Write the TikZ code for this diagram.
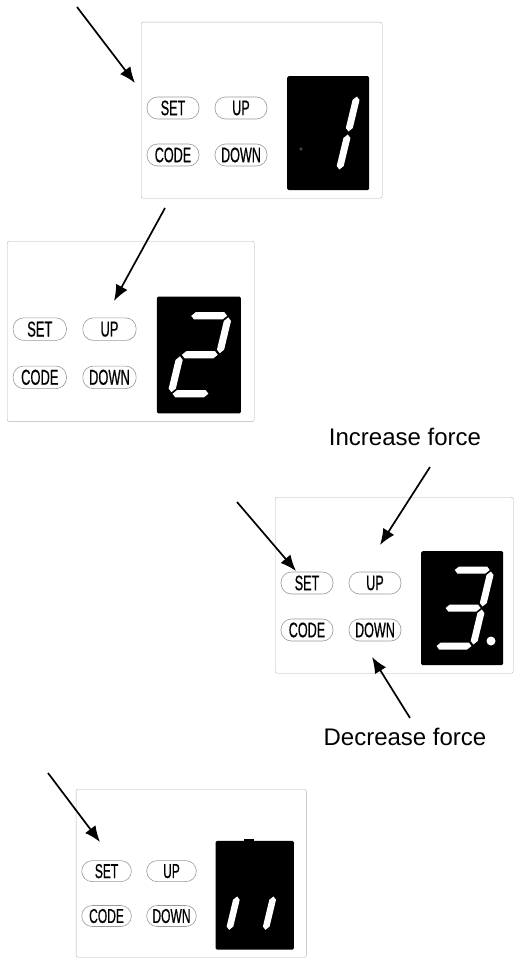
\documentclass[tikz,border=0pt]{standalone}
\usepackage{fontspec}
\setmainfont{Liberation Sans}
\newfontfamily\btnfont[FakeStretch=0.6, FakeBold=0.6]{Liberation Sans}
\usepackage{tikz}
\usetikzlibrary{arrows.meta}

% segments of a seven segment digit, in units of the display
\newcommand{\hseg}[1]{\fill[white] (15.5,#1) -- (19,#1-3.5) -- (47,#1-3.5) -- (50.5,#1) -- (47,#1+3.5) -- (19,#1+3.5) -- cycle;}
\newcommand{\vseg}[3]{\fill[white] (#1,#2+1.5) -- (#1+3.5,#2+5) -- (#1+3.5,#3-5) -- (#1,#3-1.5) -- (#1-3.5,#3-5) -- (#1-3.5,#2+5) -- cycle;}

\begin{document}
\begin{tikzpicture}[
		x=1pt, y=-1pt,
		panelbox/.style={rectangle, draw=gray!60, rounded corners=2pt, minimum width=241, minimum height=176, anchor=north west, inner sep=0pt},
		btn/.style={rectangle, draw=gray!80, line width=0.6pt, rounded corners=10.5pt, minimum width=52, minimum height=22, inner sep=0pt, font=\btnfont\fontsize{21}{21}\selectfont},
		lcd/.style={rectangle, fill=black, rounded corners=1.5pt, minimum width=82, minimum height=114, anchor=north west, inner sep=0pt},
		cue/.style={-{Latex[length=16pt,width=13pt]}, line width=1.7pt},
		hint/.style={font=\fontsize{24}{28}\selectfont}
	]
		\useasboundingbox (0,0) rectangle (515,958);

		% panel 1
		\begin{scope}[shift={(141,22)}]
			\node[panelbox](box-1) at (0,0){};
			\node[btn](set-1) at (32,86){SET};
			\node[btn](up-1) at (100,86){UP};
			\node[btn](code-1) at (32,133){CODE};
			\node[btn](down-1) at (100,133){DOWN};
			\node[lcd](lcd-1) at (146,54){};
			\draw[gray, line width=0.3pt] (160,127) circle (1.3pt);
			\begin{scope}[shift={(168.8,54)}, xslant=0.24]
				\vseg{52}{19}{57} \vseg{52}{57}{95}
			\end{scope}
		\end{scope}

		% panel 2
		\begin{scope}[shift={(7,241)}, scale=1.025, transform shape]
			\node[panelbox](box-2) at (0,0){};
			\node[btn](set-2) at (32,86){SET};
			\node[btn](up-2) at (100,86){UP};
			\node[btn](code-2) at (32,133){CODE};
			\node[btn](down-2) at (100,133){DOWN};
			\node[lcd](lcd-2) at (146,54){};
			\begin{scope}[shift={(168.8,54)}, xslant=0.24]
				\hseg{19} \vseg{52}{19}{57} \hseg{57} \vseg{14}{57}{95} \hseg{95}
			\end{scope}
		\end{scope}

		% panel 3
		\begin{scope}[shift={(275,497)}]
			\node[panelbox, minimum width=238](box-3) at (0,0){};
			\node[btn](set-3) at (32,86){SET};
			\node[btn](up-3) at (100,86){UP};
			\node[btn](code-3) at (32,133){CODE};
			\node[btn](down-3) at (100,133){DOWN};
			\node[lcd](lcd-3) at (146,54){};
			\begin{scope}[shift={(168.8,54)}, xslant=0.24]
				\hseg{19} \vseg{52}{19}{57} \hseg{57} \vseg{52}{57}{95} \hseg{95}
			\end{scope}
			\fill[white] (216,144) circle (4.5pt);
		\end{scope}

		% panel 4
		\begin{scope}[shift={(76,789)}, scale=0.955, transform shape]
			\node[panelbox](box-4) at (0,0){};
			\node[btn](set-4) at (32,86){SET};
			\node[btn](up-4) at (100,86){UP};
			\node[btn](code-4) at (32,133){CODE};
			\node[btn](down-4) at (100,133){DOWN};
			\node[lcd](lcd-4) at (146,54){};
			\fill (176,52) rectangle (186,55);
			\begin{scope}[shift={(168.8,54)}, xslant=0.24]
				\vseg{14}{57}{95} \vseg{52}{57}{95}
			\end{scope}
		\end{scope}

		% captions
		\node[hint](increase) at (405,437){Increase force};
		\node[hint](decrease) at (405,737){Decrease force};

		% arrows
		\coordinate (cue-1) at (77,7);
		\coordinate (tip-1) at (135,83);
		\coordinate (cue-2) at (165,208);
		\coordinate (tip-2) at (114,301);
		\coordinate (cue-3) at (237,502);
		\coordinate (tip-3) at (296,571);
		\coordinate (cue-up) at (430,467);
		\coordinate (tip-up) at (380,545);
		\coordinate (cue-down) at (410,718);
		\coordinate (tip-down) at (372,657);
		\coordinate (cue-4) at (48,773);
		\coordinate (tip-4) at (100,842);
		\draw[cue](cue-1) -- (tip-1);
		\draw[cue](cue-2) -- (tip-2);
		\draw[cue](cue-3) -- (tip-3);
		\draw[cue](cue-up) -- (tip-up);
		\draw[cue](cue-down) -- (tip-down);
		\draw[cue](cue-4) -- (tip-4);
	\end{tikzpicture}
\end{document}
